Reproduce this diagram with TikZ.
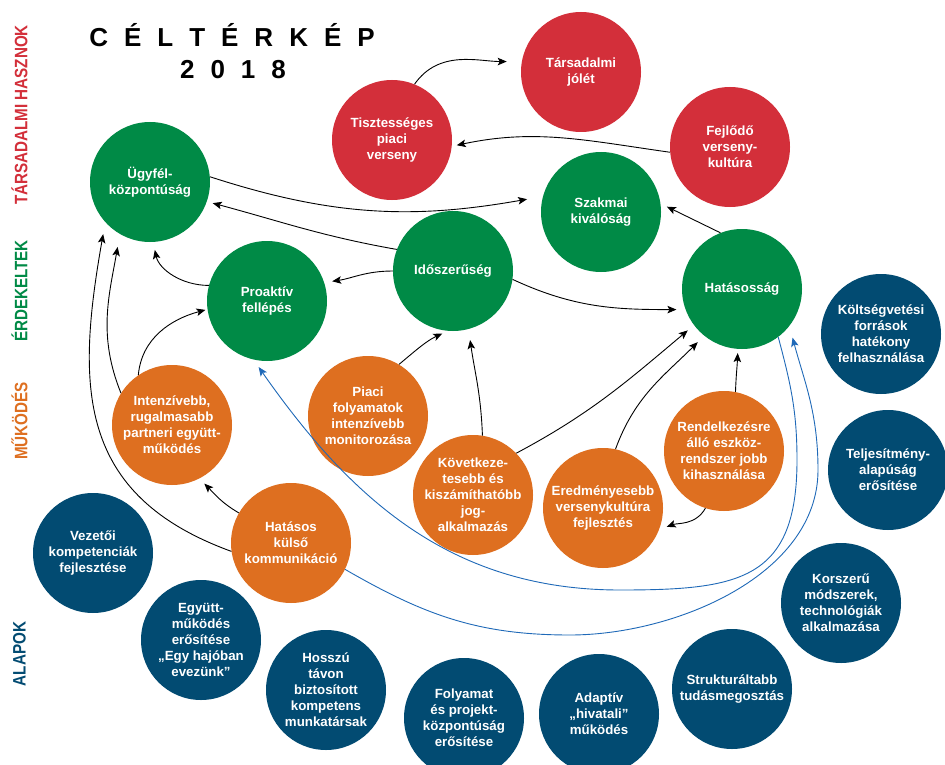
\documentclass[tikz,border=0pt]{standalone}
\usepackage{fontspec}
\usepackage{graphicx}
\setmainfont{Liberation Sans}
\usetikzlibrary{arrows.meta}
\definecolor{cred}{HTML}{D32F3A}
\definecolor{cgreen}{HTML}{008A46}
\definecolor{corange}{HTML}{DE6F20}
\definecolor{cblue}{HTML}{024B72}
\definecolor{carrow}{HTML}{1F69B8}
\newcommand\ttgap{\hspace{16pt}}
\newcommand\bubble[4]{\node[bub=#2] (#1) at (#3) {};\node[ctext] (#1t) at (#1) {#4};}
\tikzset{
 bub/.style={circle, fill=#1, minimum size=120pt, inner sep=0pt, draw=none},
 ctext/.style={text=white, align=center, font=\bfseries\fontsize{13.3}{16}\selectfont, inner sep=0pt},
 arr/.style={draw=black, line width=0.9pt, -{Stealth[length=9pt,width=7.5pt,inset=2pt]}},
 barr/.style={draw=carrow, line width=0.9pt, -{Stealth[length=9pt,width=7.5pt,inset=2pt]}},
 side/.style={rotate=90, font=\bfseries\fontsize{18}{18}\selectfont, inner sep=0pt},
 ttl/.style={font=\bfseries\fontsize{26}{26}\selectfont, anchor=base, inner sep=0pt},
}
\begin{document}
\begin{tikzpicture}[x=1pt,y=1pt]
\useasboundingbox (0,0) rectangle (945,-765);
\clip (0,0) rectangle (945,-765);
\fill[white] (0,0) rectangle (945,-765);

% title
\node[ttl] (title1) at (232,-47) {C\ttgap É\ttgap L\ttgap T\ttgap É\ttgap R\ttgap K\ttgap É\ttgap P};
\node[ttl] (title2) at (233,-79) {2\ttgap 0\ttgap 1\ttgap 8};

% side labels
\node[side, text=cred] (labA) at (19.5,-115) {\scalebox{0.845}[1]{TÁRSADALMI HASZNOK}};
\node[side, text=cgreen] (labB) at (19.5,-291) {\scalebox{0.845}[1]{ÉRDEKELTEK}};
\node[side, text=corange] (labC) at (19.5,-421) {\scalebox{0.845}[1]{MŰKÖDÉS}};
\node[side, text=cblue] (labD) at (19.5,-654) {\scalebox{0.845}[1]{ALAPOK}};

% red
\bubble{tj}{cred}{581,-72}{Társadalmi\\jólét}
\bubble{tpv}{cred}{392,-140}{Tisztességes\\piaci\\verseny}
\bubble{fvk}{cred}{730,-147}{Fejlődő\\verseny-\\kultúra}
% green
\bubble{ugy}{cgreen}{150,-182}{Ügyfél-\\központúság}
\bubble{szk}{cgreen}{601,-212}{Szakmai\\kiválóság}
\bubble{ido}{cgreen}{453,-271}{Időszerűség}
\bubble{pro}{cgreen}{267,-301}{Proaktív\\fellépés}
\bubble{hat}{cgreen}{742,-289}{Hatásosság}
% orange
\bubble{int}{corange}{172,-425}{Intenzívebb,\\rugalmasabb\\partneri együtt-\\működés}
\bubble{pfi}{corange}{368,-416}{Piaci\\folyamatok\\intenzívebb\\monitorozása}
\bubble{kov}{corange}{473,-495}{Következe-\\tesebb és\\kiszámíthatóbb\\jog-\\alkalmazás}
\bubble{ere}{corange}{603,-508}{Eredményesebb\\versenykultúra\\fejlesztés}
\bubble{ren}{corange}{724,-451}{Rendelkezésre\\álló eszköz-\\rendszer jobb\\kihasználása}
\bubble{hkk}{corange}{291,-543}{Hatásos\\külső\\kommunikáció}
% blue
\bubble{vez}{cblue}{93,-553}{Vezetői\\kompetenciák\\fejlesztése}
\bubble{egy}{cblue}{201,-640}{Együtt-\\működés\\erősítése\\„Egy hajóban\\evezünk”}
\bubble{hos}{cblue}{326,-690}{Hosszú\\távon\\biztosított\\kompetens\\munkatársak}
\bubble{fol}{cblue}{464,-718}{Folyamat\\és projekt-\\központúság\\erősítése}
\bubble{ada}{cblue}{599,-714}{Adaptív\\„hivatali”\\működés}
\bubble{str}{cblue}{732,-689}{Strukturáltabb\\tudásmegosztás}
\bubble{kor}{cblue}{841,-603}{Korszerű\\módszerek,\\technológiák\\alkalmazása}
\bubble{tel}{cblue}{888,-470}{Teljesítmény-\\alapúság\\erősítése}
\bubble{kol}{cblue}{881,-334}{Költségvetési\\források\\hatékony\\felhasználása}

% black connectors
\draw[arr, shorten >=15pt] (tpv.68) to[out=55,in=180] (tj.170);
\draw[arr, shorten >=5pt] (fvk.185) to[out=172,in=12] (tpv.-6);
\draw[arr, shorten >=16pt] (ugy.5) to[out=-18,in=190] (szk.165);
\draw[arr, shorten >=6pt] (ido.159) to[out=170,in=-15] (ugy.-19.5);
\draw[arr, shorten >=8pt] (ido.180) to[out=180,in=8] (pro.18);
\draw[arr, shorten >=9pt] (ido.-8) to[out=-25,in=180] (hat.-160);
\draw[arr, shorten >=7pt] (hat.111) -- (szk.8.6);
\draw[arr, shorten >=8pt] (pro.165) to[out=180,in=-78] (ugy.-87.5);
\draw[arr, shorten >=2pt] (int.124) to[out=85,in=195] (pro.188);
\draw[arr, shorten >=13pt] (int.148) to[out=112,in=-100] (ugy.-120);
\draw[arr, shorten >=12pt] (hkk.188) to[out=160,in=-100,looseness=1.2] (ugy.-138);
\draw[arr, shorten >=7pt] (hkk.150) to[out=150,in=-45] (int.-63);
\draw[arr, shorten >=6pt] (pfi.59) to[out=40,in=205] (ido.-95);
\draw[arr, shorten >=11pt] (kov.81.5) to[out=92,in=-82] (ido.-75);
\draw[arr, shorten >=8pt] (kov.44) to[out=28,in=220] (hat.-143);
\draw[arr, shorten >=9pt] (ere.78.5) to[out=70,in=225] (hat.-129);
\draw[arr, shorten >=4pt] (ren.79.4) to[out=88,in=-92] (hat.-94.5);
\draw[arr, shorten >=8pt] (ren.-108) to[out=-120,in=20] (ere.-21);

% blue connectors
\draw[barr, shorten >=9pt] (hat.-53) to[out=-75,in=90] (797,-460)
  to[out=-90,in=0,looseness=1.4] (620,-590) to[out=180,in=-55] (pro.-103);
\draw[barr, shorten >=12pt] (hkk.-26) to[out=-30,in=180] (570,-635)
  to[out=0,in=-90,looseness=0.9] (818,-470) to[out=90,in=-75] (hat.-38);
\end{tikzpicture}
\end{document}
